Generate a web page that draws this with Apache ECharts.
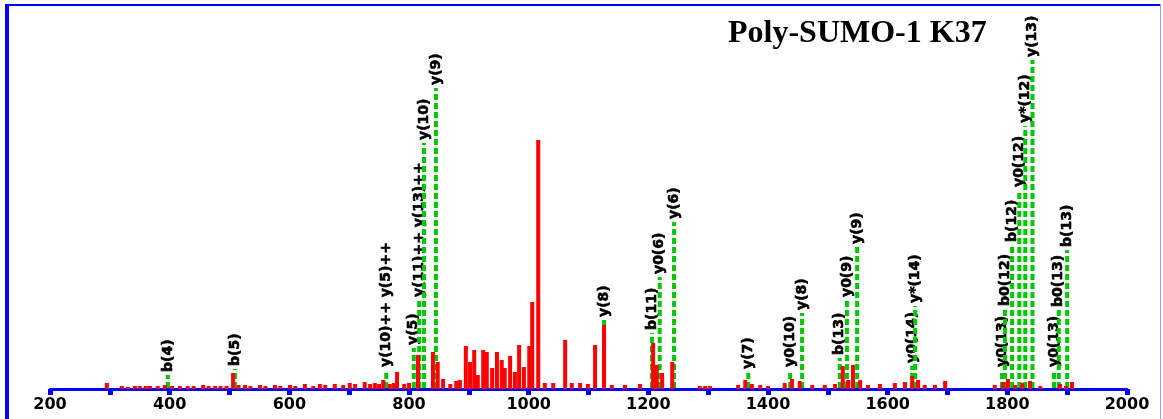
<!DOCTYPE html>
<html>
<head>
<meta charset="utf-8">
<script src="https://cdn.jsdelivr.net/npm/echarts@6/dist/echarts.min.js"></script>
<style>
html,body{margin:0;padding:0;background:#fff;}
#chart{width:1163px;height:419px;}
</style>
</head>
<body>
<div id="chart"></div>
<script>
// m/z axis
const mzMin = 200;
const mzMax = 2000;
const mzTickStep = 100;

// unassigned peaks (red)
const peakMz = [295,320,330,342,350,360,367,380,392,404,417,430,440,456,465,476,485,495,506,515,526,535,551,560,576,585,601,610,626,640,651,660,676,690,701,710,726,735,743,750,757,768,775,780,792,800,815,840,848,857,869,879,885,895,902,909,915,924,930,939,947,955,960,969,977,984,992,1001,1006,1016,1027,1041,1061,1072,1086,1099,1111,1126,1139,1161,1186,1208,1214,1223,1240,1286,1295,1303,1350,1362,1373,1387,1400,1428,1440,1453,1474,1495,1512,1525,1534,1542,1554,1567,1587,1612,1629,1641,1651,1662,1679,1696,1779,1793,1801,1813,1825,1838,1855,1888,1898,1908];
const peakInt = [6,3,2,3,3,3,3,3,4,3,3,3,3,4,3,3,3,3,16,4,4,3,4,3,4,3,4,3,5,3,5,4,5,4,6,5,7,5,6,5,9,5,6,17,5,6,34,37,27,10,5,8,9,43,27,39,14,39,37,21,37,29,21,33,17,44,22,43,87,249,6,6,49,6,6,5,44,64,4,4,5,46,24,16,27,3,3,3,4,9,5,4,3,6,10,8,4,4,5,23,9,24,9,4,5,6,7,13,9,4,4,8,4,7,10,4,6,8,3,5,3,7];

// assigned fragment ions (green) with their labels
const ionMz = [397,509,762,808,817,825,845,1126,1206,1219,1243,1367,1437,1457,1520,1532,1549,1641,1646,1791,1796,1808,1820,1830,1842,1878,1886,1900];
const ionInt = [14,20,19,41,89,246,301,69,56,112,167,17,19,76,31,89,142,23,83,19,80,144,199,263,329,19,79,139];
const ionLabels = ['b(4)','b(5)','y(10)++ y(5)++','y(5)','y(11)++ y(13)++','y(10)','y(9)','y(8)','b(11)','y0(6)','y(6)','y(7)','y0(10)','y(8)','b(13)','y0(9)','y(9)','y0(14)','y*(14)','y0(13)','b0(12)','b(12)','y0(12)','y*(12)','y(13)','y0(13)','b0(13)','b(13)'];

const title = 'Poly-SUMO-1 K37';

const peaks = peakMz.map((m, i) => [m, peakInt[i]]);
const ions = ionMz.map((m, i) => [m, ionInt[i], ionLabels[i]]);

const chart = echarts.init(document.getElementById('chart'), null, {renderer: 'canvas'});

chart.setOption({
  animation: false,
  backgroundColor: '#ffffff',
  grid: {left: 50, right: 36, top: 5, bottom: 30},
  xAxis: {
    type: 'value',
    min: mzMin,
    max: mzMax,
    interval: mzTickStep,
    axisLine: {show: true, onZero: false, lineStyle: {color: '#0000ff', width: 3}},
    axisTick: {show: true, length: 6, lineStyle: {color: '#0000ff', width: 5}},
    axisLabel: {
      color: '#000',
      fontFamily: 'DejaVu Sans',
      fontWeight: 'bold',
      fontSize: 16,
      margin: 8,
      formatter: v => (v % 200 === 0 ? String(v) : '')
    },
    splitLine: {show: false}
  },
  yAxis: {
    type: 'value',
    min: 0,
    max: 384,
    show: false,
    splitLine: {show: false}
  },
  series: [
    {
      // assigned ions: dashed green sticks with rotated labels
      type: 'custom',
      z: 2,
      data: ions,
      renderItem: (params, api) => {
        const base = api.coord([api.value(0), 0]);
        const top = api.coord([api.value(0), api.value(1)]);
        return {
          type: 'group',
          children: [
            {
              type: 'line',
              shape: {x1: base[0], y1: base[1] - 1, x2: top[0], y2: top[1]},
              style: {stroke: '#00c800', lineWidth: 4, lineDash: [6, 3]}
            },
            {
              type: 'text',
              x: top[0],
              y: top[1] - 3,
              rotation: Math.PI / 2,
              style: {
                text: ions[params.dataIndex][2],
                fill: '#000',
                font: 'bold 14px "DejaVu Sans"',
                align: 'left',
                verticalAlign: 'middle',
                stroke: '#000',
                lineWidth: 0.6
              }
            }
          ]
        };
      }
    },
    {
      // unassigned peaks: red sticks
      type: 'custom',
      z: 3,
      data: peaks,
      renderItem: (params, api) => {
        const base = api.coord([api.value(0), 0]);
        const top = api.coord([api.value(0), api.value(1)]);
        return {
          type: 'rect',
          shape: {x: base[0] - 2, y: top[1], width: 4, height: base[1] - top[1]},
          style: {fill: '#ff0000'}
        };
      }
    }
  ],
  graphic: [
    {type: 'line', shape: {x1: 5, y1: 5, x2: 1160, y2: 5}, style: {stroke: '#0000ff', lineWidth: 2}},
    {type: 'line', shape: {x1: 7, y1: 4, x2: 7, y2: 419}, style: {stroke: '#0000ff', lineWidth: 4}},
    {type: 'line', shape: {x1: 1160.5, y1: 4, x2: 1160.5, y2: 419}, style: {stroke: '#9a9aff', lineWidth: 1}},
    {
      type: 'text',
      left: 728,
      top: 18,
      style: {
        text: title,
        fill: '#000',
        font: 'bold 32px "Liberation Serif"'
      }
    }
  ]
});
</script>
</body>
</html>
